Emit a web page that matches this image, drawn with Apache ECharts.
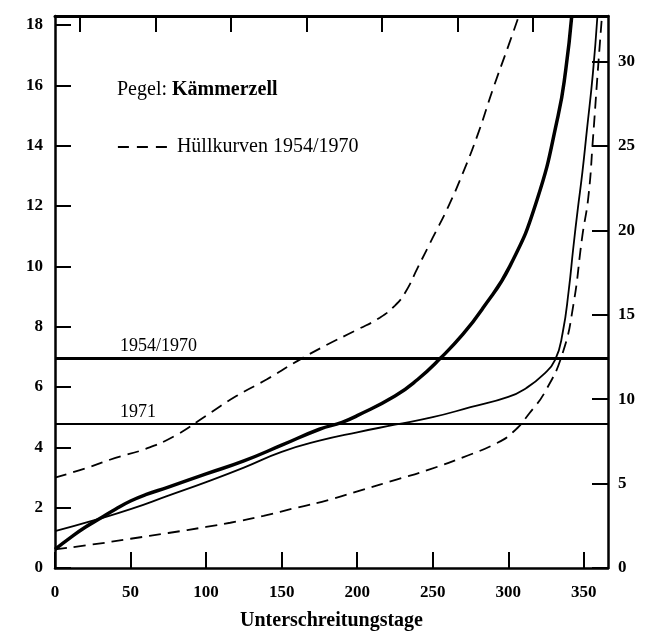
<!DOCTYPE html>
<html>
<head>
<meta charset="utf-8">
<script src="https://cdn.jsdelivr.net/npm/echarts@6/dist/echarts.min.js"></script>
<style>
html,body{margin:0;padding:0;background:#fff;}
#chart{width:669px;height:631px;}
</style>
</head>
<body>
<div id="chart"></div>
<script>
// Days (Unterschreitungstage) and water levels
const upperDays   = [0, 20, 40, 60, 80, 100, 120, 140, 160, 180, 200, 215, 225, 232, 240, 250, 260, 270, 280, 290, 300, 307];
const upperLevels = [3.0, 3.3, 3.65, 3.95, 4.4, 5.05, 5.7, 6.25, 6.85, 7.4, 7.9, 8.3, 8.7, 9.15, 9.95, 10.95, 11.95, 13.1, 14.4, 15.9, 17.3, 18.3];

const thickDays   = [0, 10, 20, 30, 40, 50, 60, 75, 100, 125, 150, 175, 190, 200, 225, 240, 255, 270, 283, 301, 319, 333, 338, 342];
const thickLevels = [0.62, 1.0, 1.35, 1.65, 1.95, 2.22, 2.43, 2.68, 3.12, 3.55, 4.07, 4.6, 4.83, 5.05, 5.7, 6.25, 6.95, 7.75, 8.6, 10.0, 12.2, 15.0, 16.5, 18.3];

const thinDays    = [0, 25, 50, 75, 100, 125, 150, 175, 200, 225, 250, 275, 300, 312, 323, 331, 336, 340, 343, 346, 349, 352, 356, 359];
const thinLevels  = [1.22, 1.57, 1.95, 2.4, 2.85, 3.33, 3.85, 4.22, 4.5, 4.75, 5.0, 5.33, 5.67, 5.97, 6.4, 6.9, 7.8, 9.2, 10.6, 11.9, 13.1, 14.5, 16.4, 18.3];

const lowerDays   = [0, 25, 50, 75, 100, 116, 138, 160, 182, 204, 226, 248, 270, 292, 303, 314, 325, 336, 343, 349, 353, 356, 359, 362];
const lowerLevels = [0.62, 0.78, 0.97, 1.16, 1.36, 1.5, 1.73, 2.0, 2.27, 2.6, 2.93, 3.27, 3.67, 4.13, 4.5, 5.13, 5.9, 7.13, 8.7, 11.0, 12.3, 14.2, 16.3, 18.3];

const leftTicks  = [0, 2, 4, 6, 8, 10, 12, 14, 16, 18];
const rightTicks = [0, 5, 10, 15, 20, 25, 30];
const xTicks     = [0, 50, 100, 150, 200, 250, 300, 350];
const topTicks   = [16.5, 66.5, 116.5, 166.5, 216.5, 266.5, 316.5];

const level1954 = 6.95;
const level1971 = 4.77;

const zip = (a, b) => a.map((d, i) => [d, b[i]]);

const serif = '"Liberation Serif", "DejaVu Serif", serif';
const chart = echarts.init(document.getElementById('chart'), null, {renderer: 'canvas'});

const dashStyle = {color: '#000', width: 1.8, type: [12, 7]};

chart.setOption({
  backgroundColor: '#fff',
  animation: false,
  title: {
    left: 117, top: 80, padding: 0,
    text: '{a|Pegel: }{b|Kämmerzell}',
    textStyle: {
      fontWeight: 'normal',
      rich: {
        a: {fontFamily: serif, fontSize: 20, fontWeight: 'normal', color: '#000'},
        b: {fontFamily: serif, fontSize: 20, fontWeight: 'bold', color: '#000'}
      }
    }
  },
  legend: {
    left: 117, top: 137, padding: 0,
    itemWidth: 50, itemHeight: 14,
    data: ['Hüllkurven 1954/1970'],
    itemStyle: {opacity: 0},
    lineStyle: {type: [11, 8], width: 1.8, color: '#000'},
    textStyle: {fontFamily: serif, fontSize: 20, color: '#000', padding: [0, 0, 0, 4]},
    selectedMode: false
  },
  grid: {left: 55, right: 61, top: 16, bottom: 63, containLabel: false, outerBoundsMode: 'none'},
  xAxis: [
    {
      type: 'value', position: 'bottom', min: 0, max: 366, interval: 50,
      name: 'Unterschreitungstage', nameLocation: 'middle', nameGap: 43,
      nameTextStyle: {fontFamily: serif, fontSize: 20, fontWeight: 'bold', color: '#000'},
      axisLine: {show: true, onZero: false, lineStyle: {color: '#000', width: 2.5}},
      axisTick: {show: true, inside: true, length: 16, lineStyle: {color: '#000', width: 2}, customValues: xTicks},
      axisLabel: {fontFamily: serif, fontSize: 17, fontWeight: 'bold', color: '#000', margin: 16, customValues: xTicks},
      splitLine: {show: false}
    },
    {
      type: 'value', position: 'top', min: 0, max: 366,
      axisLine: {show: true, onZero: false, lineStyle: {color: '#000', width: 3}},
      axisTick: {show: true, inside: true, length: 16, lineStyle: {color: '#000', width: 2}, customValues: topTicks},
      axisLabel: {show: false},
      splitLine: {show: false}
    }
  ],
  yAxis: [
    {
      type: 'value', position: 'left', min: 0, max: 18.3, interval: 2,
      axisLine: {show: true, onZero: false, lineStyle: {color: '#000', width: 2.5}},
      axisTick: {show: true, inside: true, length: 16, lineStyle: {color: '#000', width: 2}, customValues: leftTicks},
      axisLabel: {fontFamily: serif, fontSize: 17, fontWeight: 'bold', color: '#000', margin: 12, customValues: leftTicks},
      splitLine: {show: false}
    },
    {
      type: 'value', position: 'right', min: 0, max: 32.7, interval: 5,
      axisLine: {show: true, onZero: false, lineStyle: {color: '#000', width: 2.5}},
      axisTick: {show: true, inside: true, length: 16, lineStyle: {color: '#000', width: 2}, customValues: rightTicks},
      axisLabel: {fontFamily: serif, fontSize: 17, fontWeight: 'bold', color: '#000', margin: 10, customValues: rightTicks},
      splitLine: {show: false}
    }
  ],
  series: [
    {
      name: 'Hüllkurven 1954/1970', type: 'line', data: zip(upperDays, upperLevels),
      showSymbol: false, symbol: 'none', smooth: 0.5,
      lineStyle: dashStyle, itemStyle: {color: '#000'}, clip: true, silent: true
    },
    {
      name: 'Hüllkurven 1954/1970', type: 'line', data: zip(lowerDays, lowerLevels),
      showSymbol: false, symbol: 'none', smooth: 0.5,
      lineStyle: dashStyle, itemStyle: {color: '#000'}, clip: true, silent: true
    },
    {
      name: 'mittel', type: 'line', data: zip(thickDays, thickLevels),
      showSymbol: false, symbol: 'none', smooth: 0.5,
      lineStyle: {color: '#000', width: 3.5}, clip: true, silent: true,
      markLine: {
        silent: true, symbol: 'none',
        label: {show: true, position: 'insideStartTop', fontFamily: serif, fontSize: 18, color: '#000', padding: [0, 0, 0, 62], distance: 3},
        data: [
          {yAxis: level1954, label: {formatter: '1954/1970'}, lineStyle: {color: '#000', width: 3, type: 'solid'}},
          {yAxis: level1971, label: {formatter: '1971'}, lineStyle: {color: '#000', width: 2, type: 'solid'}}
        ]
      }
    },
    {
      name: '1971', type: 'line', data: zip(thinDays, thinLevels),
      showSymbol: false, symbol: 'none', smooth: 0.5,
      lineStyle: {color: '#000', width: 1.8}, clip: true, silent: true
    }
  ]
});
</script>
</body>
</html>
